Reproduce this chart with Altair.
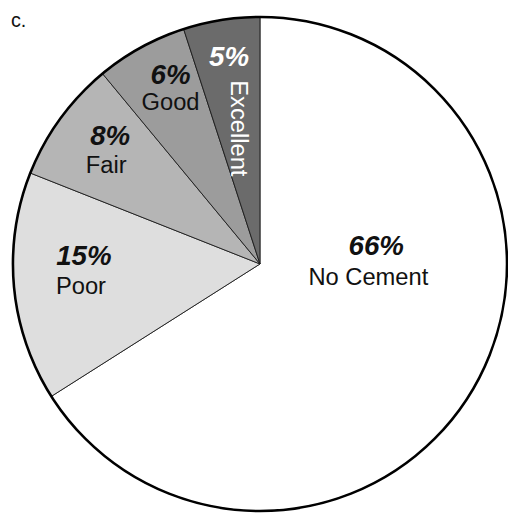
import altair as alt
import pandas as pd

categories = ["No Cement", "Poor", "Fair", "Good", "Excellent"]
values = [66, 15, 8, 6, 5]
pct_labels = ["66%", "15%", "8%", "6%", "5%"]
colors = ["#ffffff", "#dedede", "#b5b5b5", "#9c9c9c", "#6b6b6b"]
panel_label = "c."

df = pd.DataFrame({
    "cat": categories,
    "value": values,
    "pct": pct_labels,
    "idx": list(range(len(categories))),
})

FONT = "Liberation Sans"
CX, CY = 255, 256
R = 250

base = alt.Chart(df).encode(
    theta=alt.Theta("value:Q", stack=True),
    order=alt.Order("idx:Q"),
    x=alt.value(CX),
    y=alt.value(CY),
)

pie = base.mark_arc(radius=R, stroke="#1a1a1a", strokeWidth=0.9).encode(
    color=alt.Color("cat:N", scale=alt.Scale(domain=categories, range=colors), legend=None)
)

outline = alt.Chart(df).mark_arc(
    radius=R, fillOpacity=0, stroke="#000000", strokeWidth=2.6
).encode(
    theta=alt.Theta("sum(value):Q"),
    x=alt.value(CX),
    y=alt.value(CY),
)

# label style per category: (radius, dx_pct, dy_pct, radius_name, dx_name, dy_name, angle_name, color)
label_style = {
    "No Cement": (140, -5, -85, 140, -13, -53, 0, "#111111"),
    "Poor": (179, 0, -24, 179, -3, 7, 0, "#111111"),
    "Fair": (180, -6, -23, 180, -10, 7, 0, "#111111"),
    "Good": (190, 1, -24, 190, 1, 4, 0, "#111111"),
    "Excellent": (200, 0, -11, 140, 1, 0, 90, "#ffffff"),
}

layers = [pie, outline]
for c in categories:
    rp, dxp, dyp, rn, dxn, dyn, ang, col = label_style[c]
    pred = f"datum.cat == '{c}'"
    pct_layer = base.mark_text(
        radius=rp, dx=dxp, dy=dyp, font=FONT, fontSize=28, fontWeight="bold",
        fontStyle="italic", color=col, align="center", baseline="middle",
    ).encode(text=alt.condition(pred, alt.Text("pct:N"), alt.value("")))
    name_layer = base.mark_text(
        radius=rn, dx=dxn, dy=dyn, angle=ang, font=FONT, fontSize=24,
        color=col, align="center", baseline="middle",
    ).encode(text=alt.condition(pred, alt.Text("cat:N"), alt.value("")))
    layers += [pct_layer, name_layer]

tag = alt.Chart(pd.DataFrame({"t": [panel_label]})).mark_text(
    font=FONT, fontSize=20, color="#111111", align="left", baseline="middle"
).encode(text="t:N", x=alt.value(3), y=alt.value(10))
layers.append(tag)

chart = alt.layer(*layers).properties(
    width=506, height=507, autosize=alt.AutoSizeParams(type="none"), padding=0
).configure_view(stroke=None)

chart.save("out.html", embed_options={"renderer": "svg", "actions": False})
